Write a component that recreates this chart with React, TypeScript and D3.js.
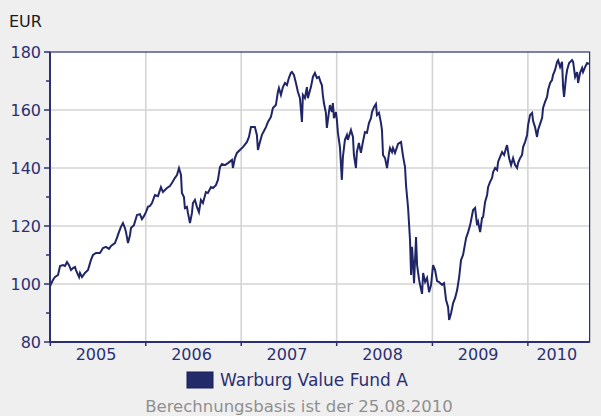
import React from "react";
import * as d3 from "d3";

// decimal years (time of each observation)
const dates: number[] = [
  2005.000, 2005.007, 2005.028, 2005.049, 2005.081, 2005.102, 2005.133, 2005.154, 2005.175, 2005.196,
  2005.217, 2005.238, 2005.259, 2005.269, 2005.301, 2005.311, 2005.332, 2005.363, 2005.395, 2005.416,
  2005.426, 2005.447, 2005.479, 2005.520, 2005.552, 2005.583, 2005.615, 2005.636, 2005.677, 2005.698,
  2005.719, 2005.740, 2005.761, 2005.782, 2005.793, 2005.814, 2005.835, 2005.845, 2005.876, 2005.908,
  2005.939, 2005.960, 2005.981, 2006.002, 2006.023, 2006.044, 2006.065, 2006.096, 2006.128, 2006.159,
  2006.180, 2006.222, 2006.253, 2006.274, 2006.306, 2006.327, 2006.348, 2006.369, 2006.379, 2006.400,
  2006.410, 2006.431, 2006.442, 2006.463, 2006.484, 2006.494, 2006.515, 2006.536, 2006.557, 2006.578,
  2006.599, 2006.630, 2006.651, 2006.683, 2006.704, 2006.735, 2006.756, 2006.777, 2006.798, 2006.829,
  2006.861, 2006.903, 2006.913, 2006.934, 2006.955, 2006.986, 2007.018, 2007.060, 2007.081, 2007.102,
  2007.123, 2007.143, 2007.164, 2007.175, 2007.196, 2007.217, 2007.227, 2007.259, 2007.280, 2007.311,
  2007.332, 2007.363, 2007.384, 2007.395, 2007.416, 2007.437, 2007.458, 2007.479, 2007.499, 2007.520,
  2007.531, 2007.552, 2007.573, 2007.594, 2007.615, 2007.636, 2007.646, 2007.667, 2007.688, 2007.698,
  2007.730, 2007.751, 2007.772, 2007.793, 2007.814, 2007.835, 2007.845, 2007.855, 2007.866, 2007.887,
  2007.897, 2007.908, 2007.929, 2007.950, 2007.960, 2007.971, 2007.992, 2008.002, 2008.013, 2008.034,
  2008.054, 2008.065, 2008.086, 2008.107, 2008.117, 2008.149, 2008.170, 2008.180, 2008.201, 2008.211,
  2008.232, 2008.253, 2008.274, 2008.295, 2008.316, 2008.337, 2008.358, 2008.369, 2008.389, 2008.410,
  2008.421, 2008.442, 2008.463, 2008.473, 2008.484, 2008.505, 2008.526, 2008.547, 2008.557, 2008.578,
  2008.588, 2008.609, 2008.630, 2008.641, 2008.672, 2008.693, 2008.714, 2008.725, 2008.746, 2008.766,
  2008.777, 2008.787, 2008.798, 2008.808, 2008.829, 2008.840, 2008.861, 2008.871, 2008.892, 2008.903,
  2008.924, 2008.944, 2008.965, 2008.986, 2009.007, 2009.028, 2009.049, 2009.070, 2009.101, 2009.122,
  2009.143, 2009.164, 2009.175, 2009.196, 2009.217, 2009.238, 2009.259, 2009.280, 2009.300, 2009.321,
  2009.353, 2009.374, 2009.395, 2009.416, 2009.426, 2009.447, 2009.468, 2009.479, 2009.500, 2009.520,
  2009.531, 2009.552, 2009.573, 2009.583, 2009.604, 2009.625, 2009.636, 2009.657, 2009.678, 2009.688,
  2009.709, 2009.730, 2009.751, 2009.772, 2009.782, 2009.803, 2009.824, 2009.845, 2009.866, 2009.887,
  2009.897, 2009.918, 2009.939, 2009.950, 2009.971, 2009.992, 2010.002, 2010.023, 2010.044, 2010.055,
  2010.075, 2010.096, 2010.107, 2010.128, 2010.149, 2010.159, 2010.180, 2010.201, 2010.212, 2010.233,
  2010.253, 2010.264, 2010.285, 2010.306, 2010.317, 2010.338, 2010.358, 2010.369, 2010.379, 2010.400,
  2010.411, 2010.432, 2010.463, 2010.474, 2010.495, 2010.516, 2010.526, 2010.547, 2010.568, 2010.578,
  2010.599, 2010.620, 2010.641,
];

// fund price in EUR
const prices: number[] = [
  99.3, 100.0, 101.4, 102.4, 103.1, 106.2, 106.5, 106.2, 107.6, 106.5,
  104.8, 105.5, 105.9, 104.8, 102.4, 103.8, 102.4, 103.8, 104.8, 107.2,
  108.3, 110.0, 110.7, 110.7, 112.4, 112.8, 112.1, 113.1, 114.1, 115.9,
  117.9, 119.7, 121.0, 119.3, 117.9, 114.1, 116.9, 119.3, 120.3, 123.8,
  124.1, 122.4, 123.4, 124.8, 126.6, 126.9, 127.9, 130.7, 130.3, 133.4,
  131.7, 133.1, 133.8, 134.8, 136.6, 137.6, 140.0, 137.6, 131.4, 130.0,
  126.2, 126.6, 124.5, 121.0, 124.5, 127.9, 129.0, 126.6, 124.8, 129.0,
  127.9, 131.7, 131.4, 133.4, 133.1, 134.1, 135.9, 140.3, 141.4, 141.0,
  141.7, 142.8, 140.0, 143.4, 145.2, 146.2, 147.2, 149.0, 150.7, 154.1,
  154.1, 154.1, 151.4, 146.2, 149.0, 151.4, 152.1, 154.1, 155.9, 157.6,
  160.7, 161.7, 166.2, 167.6, 165.2, 167.9, 169.3, 168.6, 171.0, 172.8,
  173.1, 172.1, 169.3, 166.2, 164.1, 155.9, 165.2, 164.1, 167.9, 164.1,
  167.9, 171.4, 172.8, 171.0, 171.4, 169.3, 168.6, 165.2, 162.4, 159.0,
  153.8, 156.6, 161.7, 159.3, 162.4, 157.2, 159.3, 156.6, 152.1, 147.2,
  135.9, 143.8, 149.7, 151.4, 149.7, 153.1, 150.7, 144.5, 140.0, 145.5,
  148.6, 145.2, 149.0, 152.4, 152.1, 155.5, 157.2, 159.3, 161.0, 162.1,
  158.3, 159.0, 155.5, 153.1, 144.5, 143.4, 140.0, 145.2, 146.9, 145.5,
  146.9, 145.2, 147.2, 148.3, 149.0, 144.1, 140.3, 133.8, 126.2, 115.2,
  103.1, 112.8, 107.2, 100.3, 116.2, 106.5, 101.4, 99.7, 96.6, 103.8,
  100.7, 102.1, 97.2, 99.7, 106.5, 104.8, 101.0, 100.7, 99.7, 100.3,
  94.5, 92.1, 87.6, 90.0, 93.4, 95.2, 97.9, 102.4, 108.3, 110.0,
  115.9, 117.9, 120.3, 123.8, 125.5, 126.2, 120.3, 121.4, 117.9, 122.8,
  123.1, 128.3, 130.7, 133.4, 135.2, 136.6, 138.6, 140.0, 139.3, 142.1,
  143.8, 145.5, 144.5, 146.9, 147.9, 143.4, 141.0, 143.4, 141.0, 140.0,
  141.7, 143.4, 144.5, 147.2, 149.0, 151.4, 154.8, 158.3, 159.0, 156.2,
  154.1, 150.7, 153.1, 155.2, 157.2, 160.7, 162.8, 164.5, 166.9, 169.3,
  170.3, 172.1, 173.8, 176.6, 177.2, 174.8, 176.6, 167.9, 164.5, 171.4,
  173.8, 176.2, 177.2, 176.6, 171.4, 173.1, 169.3, 172.8, 174.5, 173.1,
  174.8, 176.2, 175.9,
];

const yearLabels: number[] = [2005, 2006, 2007, 2008, 2009, 2010];
const yMajorTicks: number[] = [80, 100, 120, 140, 160, 180];
const yMinorTicks: number[] = [90, 110, 130, 150, 170];
const seriesName = "Warburg Value Fund A";
const unitLabel = "EUR";
const footnote = "Berechnungsbasis ist der 25.08.2010";
const startDate = "2005-01-01";
const endDate = "2010-08-25";

const W = 601;
const H = 416;
const M = { left: 50, right: 589.6, top: 52, bottom: 342 };
const NAVY = "#2b3072";
const LINE = "#1f2566";
const GRID = "#d4d4d4";
const FONT = "'DejaVu Sans', Verdana, sans-serif";

function decToDate(y: number): Date {
  const yr = Math.floor(y);
  const s = Date.UTC(yr, 0, 1);
  const e = Date.UTC(yr + 1, 0, 1);
  return new Date(s + (y - yr) * (e - s));
}

export default function App() {
  const x = d3
    .scaleUtc()
    .domain([new Date(startDate + "T00:00:00Z"), new Date(endDate + "T00:00:00Z")])
    .range([M.left + 0.3, M.right]);
  const y = d3.scaleLinear().domain([80, 180]).range([M.bottom, M.top]);

  const pts = dates.map((d, i) => [decToDate(d), prices[i]] as [Date, number]);
  const line = d3
    .line<[Date, number]>()
    .x((d) => x(d[0]))
    .y((d) => y(d[1]));

  const yearStarts = yearLabels.map((yr) => new Date(Date.UTC(yr, 0, 1)));
  const endX = x.range()[1];

  return (
    <svg
      width={W}
      height={H}
      style={{ position: "absolute", left: 0, top: 0, display: "block" }}
      fontFamily={FONT}
    >
      <rect x={0} y={0} width={W} height={H} fill="#efefef" />
      <text x={9} y={27} fontSize={16} fill="#1a1a1a">
        {unitLabel}
      </text>

      {/* plot background */}
      <rect x={M.left} y={M.top} width={endX - M.left} height={M.bottom - M.top} fill="#ffffff" />

      {/* grid */}
      {yMajorTicks
        .filter((t) => t !== 80 && t !== 180)
        .map((t) => (
          <line key={"gy" + t} x1={M.left} x2={endX} y1={y(t)} y2={y(t)} stroke={GRID} strokeWidth={1.6} />
        ))}
      {yearStarts.slice(1).map((d, i) => (
        <line key={"gx" + i} x1={x(d)} x2={x(d)} y1={M.top} y2={M.bottom} stroke={GRID} strokeWidth={1.6} />
      ))}

      {/* series */}
      <path d={line(pts) || ""} fill="none" stroke={LINE} strokeWidth={2} strokeLinejoin="miter" />

      {/* frame */}
      <rect
        x={M.left}
        y={M.top}
        width={endX - M.left}
        height={M.bottom - M.top}
        fill="none"
        stroke={NAVY}
        strokeWidth={1.2}
      />
      <line x1={M.left} x2={M.left} y1={M.top} y2={M.bottom} stroke={NAVY} strokeWidth={2} />
      <line x1={M.left} x2={endX} y1={M.bottom} y2={M.bottom} stroke={NAVY} strokeWidth={2} />

      {/* y axis ticks and labels */}
      {yMajorTicks.map((t) => (
        <g key={"yt" + t}>
          <line x1={M.left - 6} x2={M.left} y1={y(t)} y2={y(t)} stroke={NAVY} strokeWidth={1.5} />
          <text x={41} y={y(t)} dy="0.36em" textAnchor="end" fontSize={16} fill={NAVY}>
            {t}
          </text>
        </g>
      ))}
      {yMinorTicks.map((t) => (
        <line key={"ym" + t} x1={M.left - 4} x2={M.left} y1={y(t)} y2={y(t)} stroke={NAVY} strokeWidth={1.5} />
      ))}

      {/* x axis ticks and labels */}
      {yearStarts.map((d, i) => (
        <line key={"xt" + i} x1={x(d)} x2={x(d)} y1={M.bottom} y2={M.bottom + 4} stroke={NAVY} strokeWidth={1.5} />
      ))}
      {yearLabels.map((yr, i) => {
        const s = x(yearStarts[i]);
        const e = Math.min(x(new Date(Date.UTC(yr + 1, 0, 1))), endX);
        return (
          <text key={"xl" + yr} x={(s + e) / 2 - 2} y={360} textAnchor="middle" fontSize={16} fill={NAVY}>
            {yr}
          </text>
        );
      })}

      {/* legend */}
      <rect x={187} y={372} width={26} height={16} fill="#232a69" stroke="#1a1f55" strokeWidth={1} />
      <text x={220} y={386} fontSize={17} fill={NAVY}>
        {seriesName}
      </text>

      <text x={299} y={412} textAnchor="middle" fontSize={16.5} fill="#8f8f8f">
        {footnote}
      </text>
    </svg>
  );
}
